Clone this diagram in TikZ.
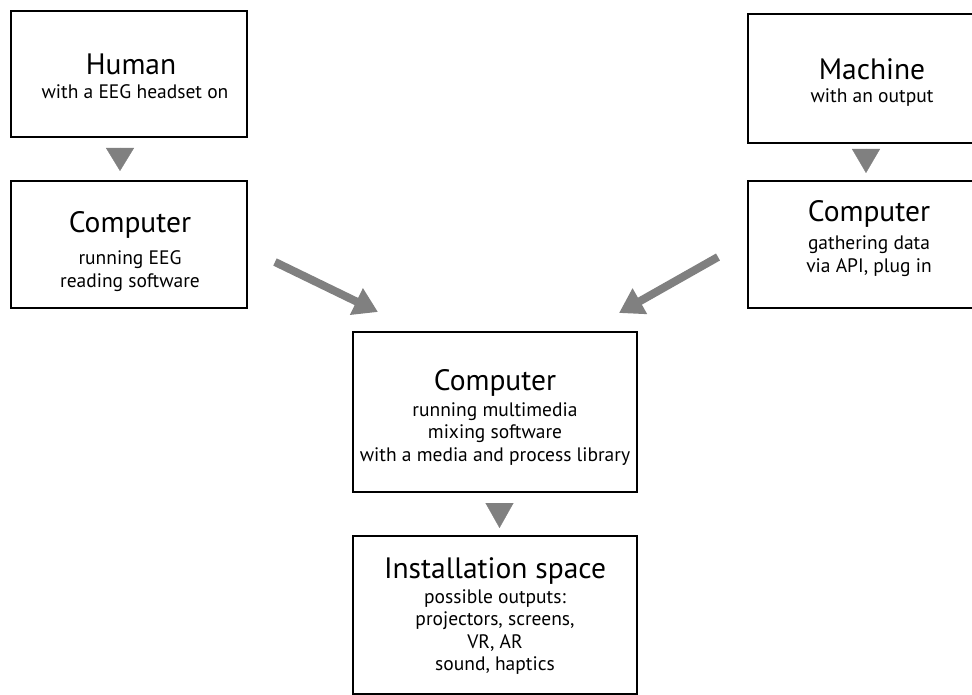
\documentclass[tikz,border=0pt]{standalone}
\usepackage{fontspec}
\setmainfont{PT Sans}
\usetikzlibrary{arrows.meta}
\definecolor{arrgray}{RGB}{128,128,128}
\newcommand{\subtxt}[1]{{\fontsize{19.5}{22.5}\selectfont\begin{tabular}[t]{@{}c@{}}#1\end{tabular}}}
\begin{document}
\begin{tikzpicture}[x=1pt,y=-1pt,
  box/.style={draw=black, line width=2.5pt, rectangle, inner sep=0pt, outer sep=0pt},
  ttl/.style={font=\fontsize{29.5}{34}\selectfont, anchor=base, inner sep=0pt},
  sub/.style={anchor=base, inner sep=0pt},
  bigarrow/.style={draw=arrgray, line width=8pt, -{Triangle[length=24pt, width=28pt]}},
  smalltri/.style={draw=arrgray, fill=arrgray, line width=0.3pt, -{Triangle[length=#1, width=28pt]}}]
\useasboundingbox (0,0) rectangle (972,695);
\fill[white] (0,0) rectangle (972,695);
\clip (0,0) rectangle (972,695);

% boxes
\node[box, minimum width=236pt, minimum height=126pt] (human) at (129,74) {};
\node[box, minimum width=236pt, minimum height=127pt] (lcomp) at (129,244.5) {};
\node[box, minimum width=240pt, minimum height=129pt] (machine) at (868,78.5) {};
\node[box, minimum width=240pt, minimum height=127pt] (rcomp) at (868,244.5) {};
\node[box, minimum width=284pt, minimum height=160pt] (mix) at (495,412) {};
\node[box, minimum width=284pt, minimum height=158.5pt] (install) at (495,615.25) {};

% texts
\node[ttl] (humanT) at (131,75) {Human};
\node[sub] (humanS) at (135,99) {\subtxt{with a EEG headset on}};
\node[ttl] (lcompT) at (130,233) {Computer};
\node[sub] (lcompS) at (130,265) {\subtxt{running EEG\\reading software}};
\node[ttl] (machineT) at (872,80) {Machine};
\node[sub] (machineS) at (872,103) {\subtxt{with an output}};
\node[ttl] (rcompT) at (869,222) {Computer};
\node[sub] (rcompS) at (869,250) {\subtxt{gathering data\\via API, plug in}};
\node[ttl] (mixT) at (495,390) {Computer};
\node[sub] (mixS) at (495,416) {\subtxt{running multimedia\\mixing software\\with a media and process library}};
\node[ttl] (installT) at (495,578) {Installation space};
\node[sub] (installS) at (495,603) {\subtxt{possible outputs:\\projectors, screens,\\VR, AR\\sound, haptics}};

% small triangles
\coordinate (t1a) at (120,148); \coordinate (t1b) at (120,171);
\coordinate (t2a) at (866,149); \coordinate (t2b) at (866,173);
\coordinate (t3a) at (499.5,503); \coordinate (t3b) at (499.5,528);
\draw[smalltri=23pt] (t1a) -- (t1b);
\draw[smalltri=24pt] (t2a) -- (t2b);
\draw[smalltri=25pt] (t3a) -- (t3b);

% big arrows
\coordinate (a1s) at (275,262); \coordinate (a1e) at (378,312);
\coordinate (a2s) at (718,257); \coordinate (a2e) at (619,313);
\draw[bigarrow] (a1s) -- (a1e);
\draw[bigarrow] (a2s) -- (a2e);
\end{tikzpicture}
\end{document}
